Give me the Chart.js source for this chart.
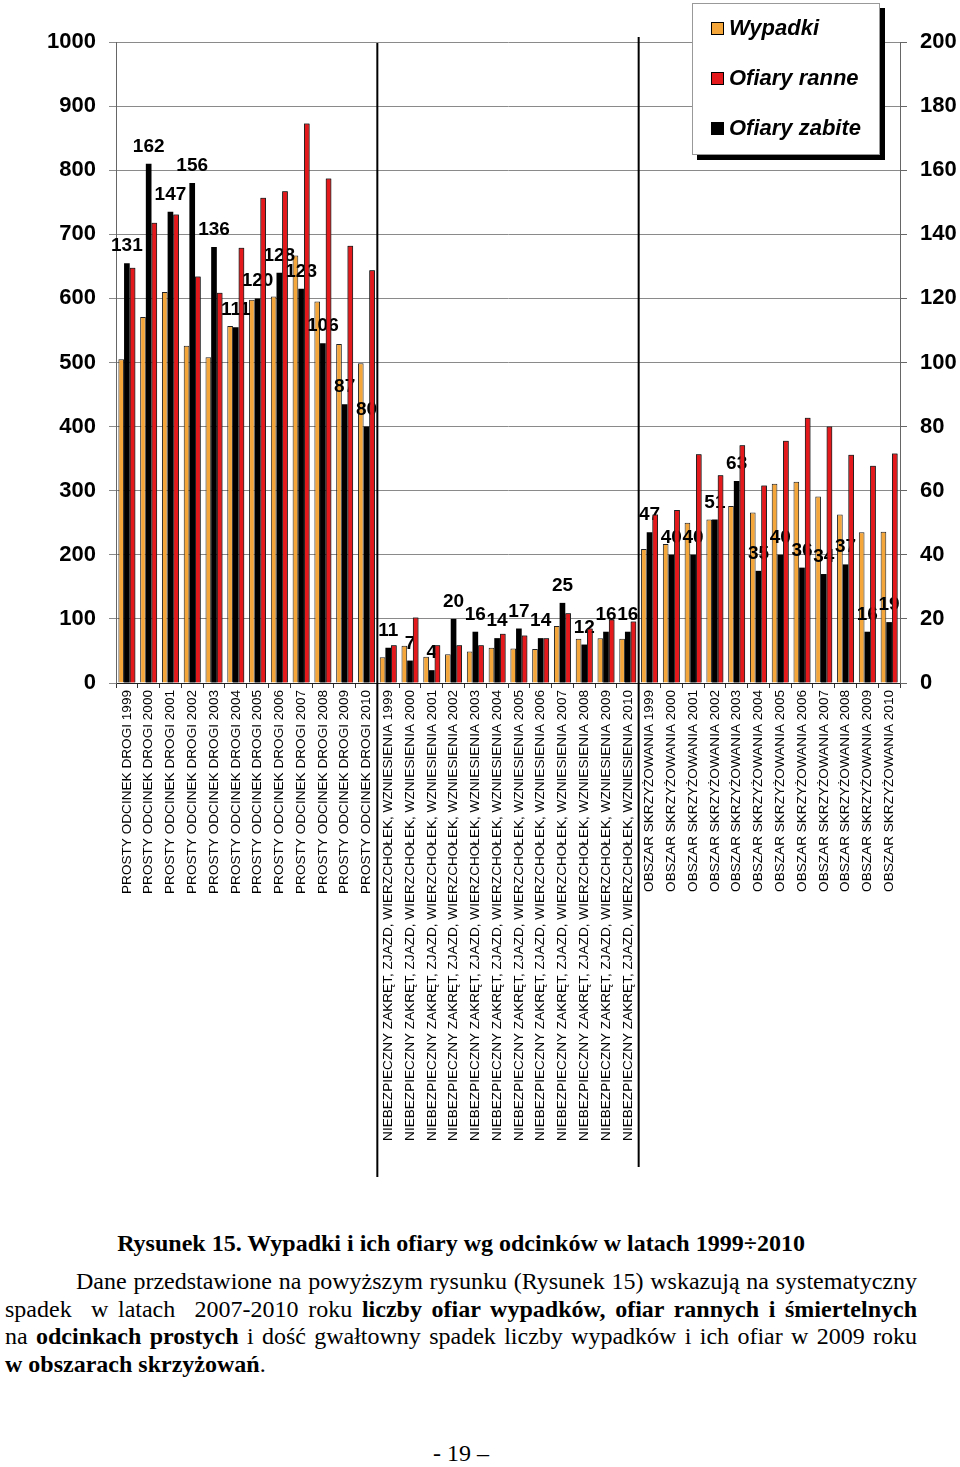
<!DOCTYPE html>
<html>
<head>
<meta charset="utf-8">
<script src="https://cdn.jsdelivr.net/npm/chart.js@4"></script>
<style>
  body { margin: 0; background: #fff; width: 960px; height: 1467px; position: relative; overflow: hidden; }
  #wrap { position: absolute; left: 0; top: 0; width: 960px; height: 1190px; }
  #legend {
    position: absolute; left: 692px; top: 3px; width: 186px; height: 150px;
    background: #fff; border: 1px solid #999; box-shadow: 5px 5px 0 #000;
    font-family: 'Liberation Sans', Arial, sans-serif; font-weight: bold; font-style: italic; font-size: 22px;
  }
  .item { position: absolute; left: 18px; height: 24px; line-height: 24px; white-space: nowrap; }
  .item span.sw { display: inline-block; width: 11px; height: 11px; border: 1px solid #000; margin-right: 5px; vertical-align: 0px; }
  .txt { position: absolute; font-family: 'Liberation Serif', 'Times New Roman', serif; color: #000; }
  .line { font-size: 24px; line-height: 27.6px; height: 27.6px; white-space: nowrap; }
  .just { text-align: justify; text-align-last: justify; white-space: normal; }
</style>
</head>
<body>
<div id="wrap"><canvas id="myChart"></canvas></div>

<div id="legend">
  <div class="item" style="top:12px"><span class="sw" style="background:#F4A63A"></span>Wypadki</div>
  <div class="item" style="top:62px"><span class="sw" style="background:#E3191B"></span>Ofiary ranne</div>
  <div class="item" style="top:112px"><span class="sw" style="background:#000"></span>Ofiary zabite</div>
</div>

<div class="txt line" style="left:5px; top:1230px; width:912px; text-align:center; font-weight:bold;">Rysunek 15. Wypadki i ich ofiary wg odcinków w latach 1999÷2010</div>

<div class="txt" style="left:5px; top:1268px; width:912px;">
  <div class="line just" style="padding-left:71px;">Dane przedstawione na powyższym rysunku (Rysunek 15) wskazują na systematyczny</div>
  <div class="line just">spadek &nbsp;w latach &nbsp;2007-2010 roku <b>liczby ofiar wypadków, ofiar rannych i śmiertelnych</b></div>
  <div class="line just">na <b>odcinkach prostych</b> i dość gwałtowny spadek liczby wypadków i ich ofiar w 2009 roku</div>
  <div class="line"><b>w obszarach skrzyżowań</b>.</div>
</div>

<div class="txt line" style="left:5px; top:1440px; width:912px; text-align:center;">- 19 –</div>

<script>
var years = ['1999','2000','2001','2002','2003','2004','2005','2006','2007','2008','2009','2010'];
var sections = ['PROSTY ODCINEK DROGI', 'NIEBEZPIECZNY ZAKRĘT, ZJAZD, WIERZCHOŁEK, WZNIESIENIA', 'OBSZAR SKRZYŻOWANIA'];

// wypadki (lewa oś)
var wypadki = [505, 571, 610, 526, 508, 557, 598, 603, 667, 595, 529, 499,
               40, 58, 41, 45, 49, 55, 54, 53, 89, 69, 70, 69,
               209, 217, 250, 255, 276, 266, 311, 314, 291, 263, 235, 236];
// ofiary ranne (lewa oś)
var ranne = [648, 718, 731, 634, 609, 679, 757, 767, 873, 787, 682, 644,
             59, 102, 59, 59, 59, 77, 74, 70, 109, 85, 99, 96,
             263, 270, 357, 324, 371, 308, 378, 414, 400, 356, 339, 358];
// ofiary zabite (prawa oś)
var zabite = [131, 162, 147, 156, 136, 111, 120, 128, 123, 106, 87, 80,
              11, 7, 4, 20, 16, 14, 17, 14, 25, 12, 16, 16,
              47, 40, 40, 51, 63, 35, 40, 36, 34, 37, 16, 19];

var leftTicks = [0, 100, 200, 300, 400, 500, 600, 700, 800, 900, 1000];
var rightTicks = [0, 20, 40, 60, 80, 100, 120, 140, 160, 180, 200];

var labels = [];
sections.forEach(function(s) {
    years.forEach(function(y) { labels.push(s + ' ' + y); });
});

var sansFont = "'Liberation Sans', Arial, sans-serif";

// etykiety ofiar zabitych: nad słupkami pomarańczowymi/czarnymi, pod czerwonymi
var killedLabels = {
    id: 'killedLabels',
    afterDatasetsDraw: function(chart) {
        var ctx = chart.ctx;
        var meta = chart.getDatasetMeta(1);
        ctx.save();
        ctx.font = 'bold 19px ' + sansFont;
        ctx.fillStyle = '#000';
        ctx.textAlign = 'center';
        ctx.textBaseline = 'alphabetic';
        meta.data.forEach(function(bar, i) {
            ctx.fillText(String(zabite[i]), bar.x, bar.y - 12);
        });
        ctx.restore();
        // czerwone słupki ponownie na wierzch
        chart.getDatasetMeta(2).data.forEach(function(bar) { bar.draw(ctx); });
    }
};

// pionowe linie oddzielające grupy
var separators = {
    id: 'separators',
    afterDraw: function(chart) {
        var ctx = chart.ctx;
        var xs = chart.scales.x;
        var ends = [[43, 1177], [37, 1167]];
        ctx.save();
        ctx.strokeStyle = '#000';
        ctx.lineWidth = 2;
        [12, 24].forEach(function(k, j) {
            var x = (xs.getPixelForValue(k - 1) + xs.getPixelForValue(k)) / 2;
            ctx.beginPath();
            ctx.moveTo(x, ends[j][0]);
            ctx.lineTo(x, ends[j][1]);
            ctx.stroke();
        });
        ctx.restore();
    }
};

function plain(v) { return String(v); }

function MakeGraph() {
    const chart = document.getElementById('myChart');
    Chart.defaults.color = '#000';
    Chart.defaults.font.family = sansFont;

    var Wypadki = {
        label: 'Wypadki',
        data: wypadki,
        backgroundColor: '#F4A63A',
        borderColor: '#222',
        borderWidth: 1,
        yAxisID: 'y'
    };
    var Zabite = {
        label: 'Ofiary zabite',
        data: zabite,
        backgroundColor: '#000',
        borderWidth: 0,
        yAxisID: 'y1'
    };
    var Ranne = {
        label: 'Ofiary ranne',
        data: ranne,
        backgroundColor: '#E3191B',
        borderColor: '#222',
        borderWidth: 1,
        yAxisID: 'y'
    };

    new Chart(chart, {
        type: 'bar',
        data: {
            labels: labels,
            datasets: [Wypadki, Zabite, Ranne]
        },
        plugins: [killedLabels, separators],
        options: {
            responsive: true,
            maintainAspectRatio: false,
            animation: false,
            datasets: { bar: { categoryPercentage: 0.78, barPercentage: 1.0 } },
            layout: { padding: { top: 42, left: 0, right: 0, bottom: 0 } },
            plugins: { legend: { display: false }, tooltip: { enabled: false } },
            scales: {
                x: {
                    afterFit: function(s) { s.height = 1190 - 683; },
                    grid: { drawOnChartArea: false, drawTicks: true, tickLength: 5, color: '#333', offset: true },
                    border: { color: '#222', width: 1 },
                    ticks: {
                        autoSkip: false, minRotation: 90, maxRotation: 90, padding: 2,
                        font: { size: 13.6 }, color: '#000'
                    }
                },
                y: {
                    position: 'left',
                    min: 0, max: 1000,
                    afterFit: function(s) { s.width = 116; },
                    afterBuildTicks: function(s) { s.ticks = leftTicks.map(function(v) { return { value: v }; }); },
                    grid: { color: '#8a8a8a', lineWidth: 1, tickLength: 7 },
                    border: { color: '#666', width: 1 },
                    ticks: { padding: 13, font: { size: 22, weight: 'bold' }, color: '#000', callback: plain }
                },
                y1: {
                    position: 'right',
                    min: 0, max: 200,
                    afterFit: function(s) { s.width = 60; },
                    afterBuildTicks: function(s) { s.ticks = rightTicks.map(function(v) { return { value: v }; }); },
                    grid: { drawOnChartArea: false, color: '#666', tickLength: 7 },
                    border: { color: '#666', width: 1 },
                    ticks: { padding: 13, font: { size: 22, weight: 'bold' }, color: '#000', callback: plain }
                }
            }
        }
    });
}

window.addEventListener('load', function() {
    MakeGraph();
});
</script>
</body>
</html>
